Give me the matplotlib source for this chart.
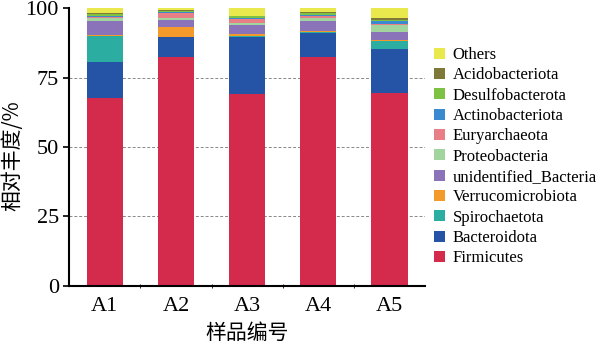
# encoding:utf-8
# stacked relative abundance chart per sample

import numpy as np
import matplotlib.pyplot as plt

samples = ['A1', 'A2', 'A3', 'A4', 'A5']

firmicutes = [67.5, 82.5, 69.0, 82.5, 69.3]
bacteroidota = [13.0, 7.0, 20.5, 8.5, 16.0]
spirochaetota = [9.5, 0.2, 0.3, 0.3, 2.9]
verrucomicrobiota = [0.3, 3.5, 0.8, 0.4, 0.3]
unidentified_bacteria = [5.0, 2.7, 3.2, 3.6, 2.8]
proteobacteria = [1.2, 0.6, 1.0, 1.2, 2.6]
euryarchaeota = [0.3, 1.7, 1.2, 0.8, 0.5]
actinobacteriota = [0.5, 0.4, 0.4, 0.3, 1.0]
desulfobacterota = [0.5, 0.5, 0.6, 0.6, 0.5]
acidobacteriota = [0.4, 0.2, 0.2, 0.5, 0.4]
others = [1.8, 0.7, 2.8, 1.3, 3.7]

series = [
    ('Firmicutes', firmicutes, '#D42A4B'),
    ('Bacteroidota', bacteroidota, '#2553A6'),
    ('Spirochaetota', spirochaetota, '#2BADA2'),
    ('Verrucomicrobiota', verrucomicrobiota, '#F39A2B'),
    ('unidentified_Bacteria', unidentified_bacteria, '#8A73B9'),
    ('Proteobacteria', proteobacteria, '#A2D49D'),
    ('Euryarchaeota', euryarchaeota, '#E87E86'),
    ('Actinobacteriota', actinobacteriota, '#3B89CF'),
    ('Desulfobacterota', desulfobacterota, '#7EC243'),
    ('Acidobacteriota', acidobacteriota, '#7E7839'),
    ('Others', others, '#E9E84C'),
]

plt.rcParams['font.family'] = ['Liberation Serif', 'Noto Sans CJK SC']

fig = plt.figure(figsize=(5.97, 3.53), dpi=100)
ax = fig.add_axes([0.116, 0.19, 0.596, 0.787])

x = np.arange(len(samples))
bottom = np.zeros(len(samples))
for name, vals, color in series:
    ax.bar(x, vals, width=0.51, bottom=bottom, color=color, label=name, zorder=2)
    bottom += np.array(vals)

ax.set_xlim(-0.5, 4.5)
ax.set_ylim(0, 100)
ax.set_yticks([0, 25, 50, 75, 100])
ax.set_xticks(x)
ax.set_xticklabels(samples)
ax.set_xticks(np.arange(0.5, 4.5, 1), minor=True)
ax.tick_params(axis='x', which='major', length=0, labelsize=16, pad=8)
ax.tick_params(axis='x', which='minor', length=3, direction='inout')
ax.tick_params(axis='y', labelsize=16, length=4, width=1.2)

for y in [25, 50, 75]:
    ax.axhline(y, color='#888888', linestyle=(0, (3, 2)), linewidth=0.7, zorder=1)

for side in ['top', 'right']:
    ax.spines[side].set_visible(False)
ax.spines['left'].set_linewidth(1.5)
ax.spines['bottom'].set_linewidth(1.5)

ax.set_xlabel('样品编号', family=['Noto Sans CJK SC'], fontsize=15, labelpad=4)
ax.set_ylabel('相对丰度/%', family=['Noto Sans CJK SC'], fontsize=15)
ax.yaxis.set_label_coords(-0.13, 0.47)

handles, labels = ax.get_legend_handles_labels()
ax.legend(handles[::-1], labels[::-1], loc='center left', bbox_to_anchor=(1.0, 0.465),
          frameon=False, fontsize=12, handlelength=0.65, handleheight=0.65,
          handletextpad=0.45, labelspacing=0.26, borderaxespad=0.15)

fig.savefig('out.png', dpi=100)
